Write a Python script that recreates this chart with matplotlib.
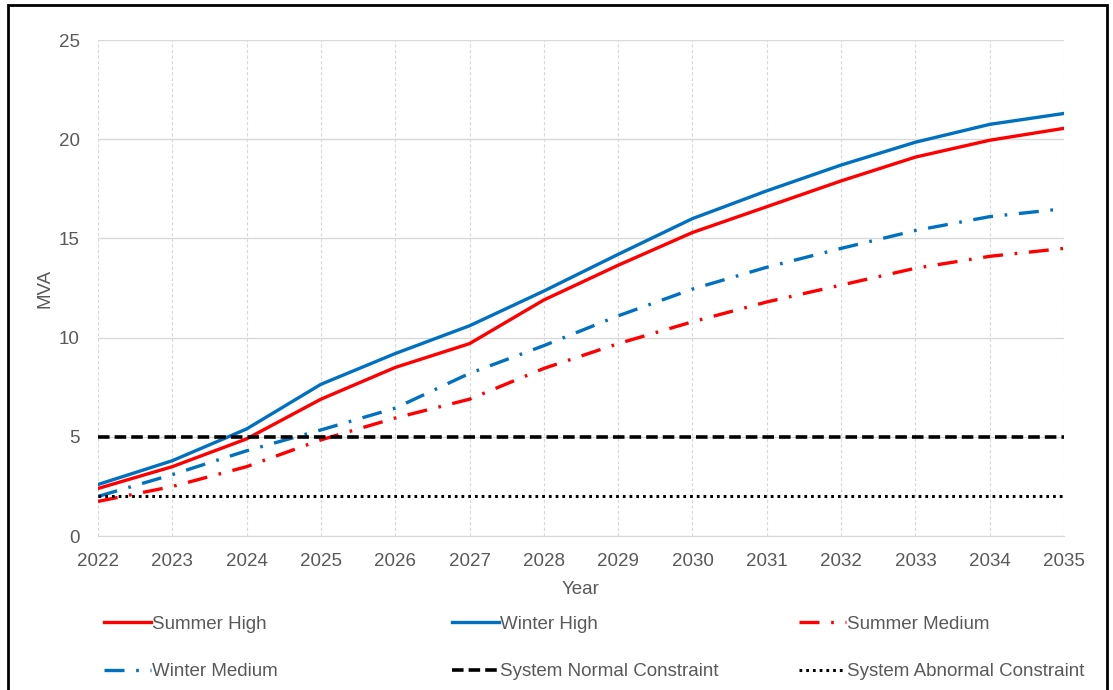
import matplotlib
matplotlib.use('Agg')
import matplotlib.pyplot as plt
from matplotlib.patches import Rectangle

plt.rcParams['font.family'] = ['Liberation Sans', 'DejaVu Sans']

years = list(range(2022, 2036))
summer_high = [2.4, 3.5, 4.9, 6.9, 8.5, 9.7, 11.9, 13.65, 15.3, 16.6, 17.9, 19.1, 19.95, 20.55]
winter_high = [2.6, 3.8, 5.4, 7.65, 9.2, 10.6, 12.35, 14.2, 16.0, 17.4, 18.7, 19.85, 20.75, 21.3]
summer_medium = [1.75, 2.5, 3.5, 4.85, 5.95, 6.9, 8.45, 9.7, 10.8, 11.8, 12.65, 13.5, 14.1, 14.5]
winter_medium = [2.0, 3.1, 4.3, 5.35, 6.45, 8.2, 9.6, 11.1, 12.45, 13.55, 14.5, 15.4, 16.1, 16.5]
normal_constraint = [5] * len(years)
abnormal_constraint = [2] * len(years)

red = '#ff0000'
blue = '#0070c0'
grey = '#595959'
fs = 13.5

fig = plt.figure(figsize=(11.13, 6.9), dpi=100)
ax = fig.add_axes([0.088, 0.223, 0.868, 0.719])

sh, = ax.plot(years, summer_high, color=red, lw=2.4, label='Summer High')
wh, = ax.plot(years, winter_high, color=blue, lw=2.4, label='Winter High')
sm, = ax.plot(years, summer_medium, color=red, lw=2.4, dashes=(6, 3.5, 0.8, 3.5), label='Summer Medium')
wm, = ax.plot(years, winter_medium, color=blue, lw=2.4, dashes=(6, 3.5, 0.8, 3.5), label='Winter Medium')
nc, = ax.plot(years, normal_constraint, color='black', lw=2.6, dashes=(3.2, 1.4), label='System Normal Constraint')
ac, = ax.plot(years, abnormal_constraint, color='black', lw=2.2, dashes=(0.9, 1.3), label='System Abnormal Constraint')

ax.set_xlim(2022, 2035)
ax.set_ylim(0, 25)
ax.set_xticks(years)
ax.set_yticks(range(0, 26, 5))
ax.tick_params(length=0, labelsize=fs, colors=grey)
ax.tick_params(axis='x', pad=12)
ax.tick_params(axis='y', pad=13)
ax.set_xlabel('Year', fontsize=fs, color=grey, labelpad=8)
ax.set_ylabel('MVA', fontsize=fs, color=grey, labelpad=4)

ax.yaxis.grid(True, color='#d9d9d9', lw=1)
ax.xaxis.grid(True, color='#d9d9d9', lw=0.8, ls=(0, (3, 2)))
ax.set_axisbelow(True)
for s in ['top', 'right', 'left']:
    ax.spines[s].set_visible(False)
ax.spines['bottom'].set_color('#d9d9d9')

# three legend columns placed like the original
columns = [[sh, wm], [wh, nc], [sm, ac]]
col_x = [0.0935, 0.406, 0.718]
for handles, x in zip(columns, col_x):
    leg = fig.legend(handles=handles, loc='upper left', bbox_to_anchor=(x, 0.108),
                     bbox_transform=fig.transFigure, frameon=False, fontsize=fs,
                     labelcolor=grey, handlelength=2.5, handletextpad=0.05,
                     labelspacing=1.62, borderpad=0, borderaxespad=0)

fig.patches.append(Rectangle((0.007, -0.01), 0.988, 1.003, transform=fig.transFigure,
                             fill=False, edgecolor='black', lw=2))

fig.savefig('out.png', dpi=100)
